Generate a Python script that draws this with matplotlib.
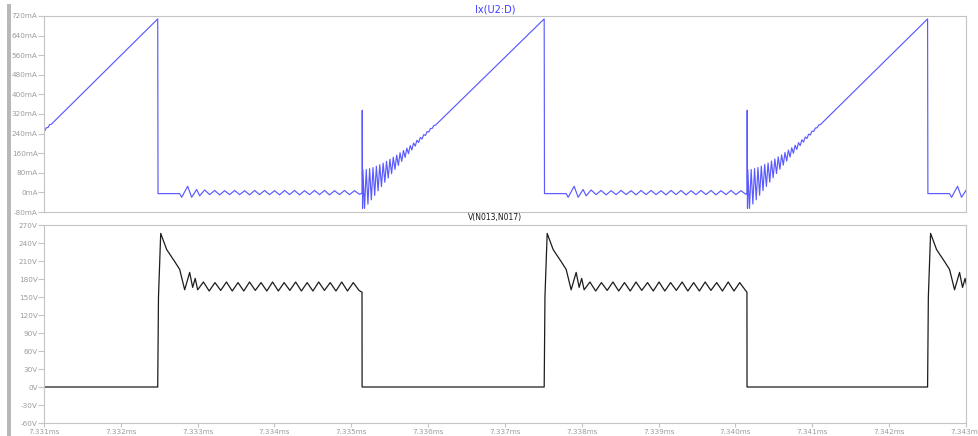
import numpy as np
import matplotlib
matplotlib.use("Agg")
import matplotlib.pyplot as plt
from matplotlib.patches import Rectangle

# switching instants (ms)
on_ms = [7.33014, 7.33514, 7.34015]     # switch on -> current ramps up
off_ms = [7.33248, 7.33751, 7.34250]    # switch off -> voltage jumps up
t_start, t_end = 7.331, 7.343

# Ix(U2:D), mA
ramp_start_mA = -15
ramp_end_mA = 708
spike_mA = [-3, 335, -65]               # at turn-on (0, 2, 6 ns)
ring_on_mA = [105, -60, 92, -56, 82, -52, 73, -47, 65, -42, 58, -38, 51, -34,
              45, -30, 40, -26, 35, -22, 30, -19, 26, -16, 22, -13, 18, -11,
              15, -9, 12, -7, 10, -6, 8, -5, 6, -4, 5, -3, 4, -2, 3, -2]  # on the ramp, every 22 ns
i_off_ns = [0, 4, 286, 312, 390, 442, 507, 546, 611]
i_off_mA = [708, -5, -5, -20, 25, -20, 12, -14, 10]
i_rip_mA = [-9, 8, -10, 7, -9, 8, -9, 7, -10, 8, -9, 8, -9, 7, -10, 8, -9, 8,
            -10, 7, -9, 8, -9, 8, -10, 7, -9, 8, -9, 7, -8]   # every 65 ns

# V(N013,N017), V
v_off_ns = [0, 10, 39, 117, 221, 286, 351, 416, 455, 488, 520]
v_off_V = [0, 150, 256, 229, 209, 196, 162, 191, 166, 181, 162]
v_rip_V = [175, 160, 174, 161, 175, 160, 174, 160, 175, 161, 174, 160, 175, 160,
           174, 161, 175, 160, 174, 160, 175, 161, 174, 160, 175, 160, 174, 161]  # every 75 ns

y1_ticks = list(range(-80, 721, 80))
y2_ticks = list(range(-60, 271, 30))
x_ticks = [7.331, 7.332, 7.333, 7.334, 7.335, 7.336, 7.337, 7.338, 7.339,
           7.340, 7.341, 7.342, 7.343]

ns = 1e-6  # ms
ti, yi, tv, yv = [], [], [], []
for k in range(len(on_ms)):
    t0, t1 = on_ms[k], off_ms[k]
    last = k + 1 == len(on_ms)
    t2 = t_end if last else on_ms[k + 1]
    # on: ramp + ringing, voltage at 0
    tr = t0 + (10 + np.arange(len(ring_on_mA)) * 22) * ns
    ramp = ramp_start_mA + (ramp_end_mA - ramp_start_mA) * (tr - t0) / (t1 - t0)
    ti += [t0, t0 + 2 * ns, t0 + 6 * ns] + list(tr)
    yi += spike_mA + list(ramp + np.array(ring_on_mA))
    tv += [t0, t1]
    yv += [0, 0]
    # off: current ~0 with ripple, voltage overshoot then ripple
    ti += list(t1 + np.array(i_off_ns) * ns)
    yi += i_off_mA
    tr = t1 + (676 + np.arange(len(i_rip_mA)) * 65) * ns
    keep = tr < t2 - 5 * ns
    ti += list(tr[keep])
    yi += list(np.array(i_rip_mA)[keep])
    tv += list(t1 + np.array(v_off_ns) * ns)
    yv += v_off_V
    tr = t1 + (595 + np.arange(len(v_rip_V)) * 75) * ns
    keep = tr < t2 - 5 * ns
    tv += list(tr[keep])
    yv += list(np.array(v_rip_V)[keep])
    if not last:
        tv += [t2 - 1 * ns]
        yv += [158]

grey = "#c4c4c4"
lab = "#9c9c9c"

fig = plt.figure(figsize=(9.79, 4.36), dpi=100)
fig.patch.set_facecolor("white")
fig.add_artist(Rectangle((7.5 / 979, 0), 4 / 979, 1 - 4 / 436, transform=fig.transFigure,
                         color="#b8b8b8", lw=0))

ax1 = fig.add_axes([44 / 979, 1 - 212 / 436, 922 / 979, 196 / 436])
ax2 = fig.add_axes([44 / 979, 1 - 423 / 436, 922 / 979, 198 / 436])

ax1.plot(ti, yi, color="#5a5aff", lw=0.85)
ax2.plot(tv, yv, color="#1c1c1c", lw=0.9)

ax1.set_ylim(-80, 720)
ax2.set_ylim(-60, 270)
for ax in (ax1, ax2):
    ax.set_xlim(t_start, t_end)
    for s in ax.spines.values():
        s.set_color(grey)
        s.set_linewidth(0.8)
    ax.tick_params(colors=grey, labelcolor=lab, labelsize=5.2, length=4, width=0.8, pad=0.5)
    ax.set_xticks(x_ticks)

ax1.set_yticks(y1_ticks)
ax1.set_yticklabels([f"{v}mA" for v in y1_ticks])
ax1.tick_params(axis="x", bottom=False, labelbottom=False)
ax2.set_yticks(y2_ticks)
ax2.set_yticklabels([f"{v}V" for v in y2_ticks])
ax2.set_xticklabels([f"{v:.3f}ms" for v in x_ticks])
ax2.tick_params(axis="x", length=3, pad=1)

fig.text(495 / 979, 1 - 9 / 436, "Ix(U2:D)", color="#3c3cff", fontsize=7,
         ha="center", va="center")
fig.text(495 / 979, 1 - 217 / 436, "V(N013,N017)", color="#1a1a1a", fontsize=5.5,
         ha="center", va="center")

fig.savefig("out.png", dpi=100)
